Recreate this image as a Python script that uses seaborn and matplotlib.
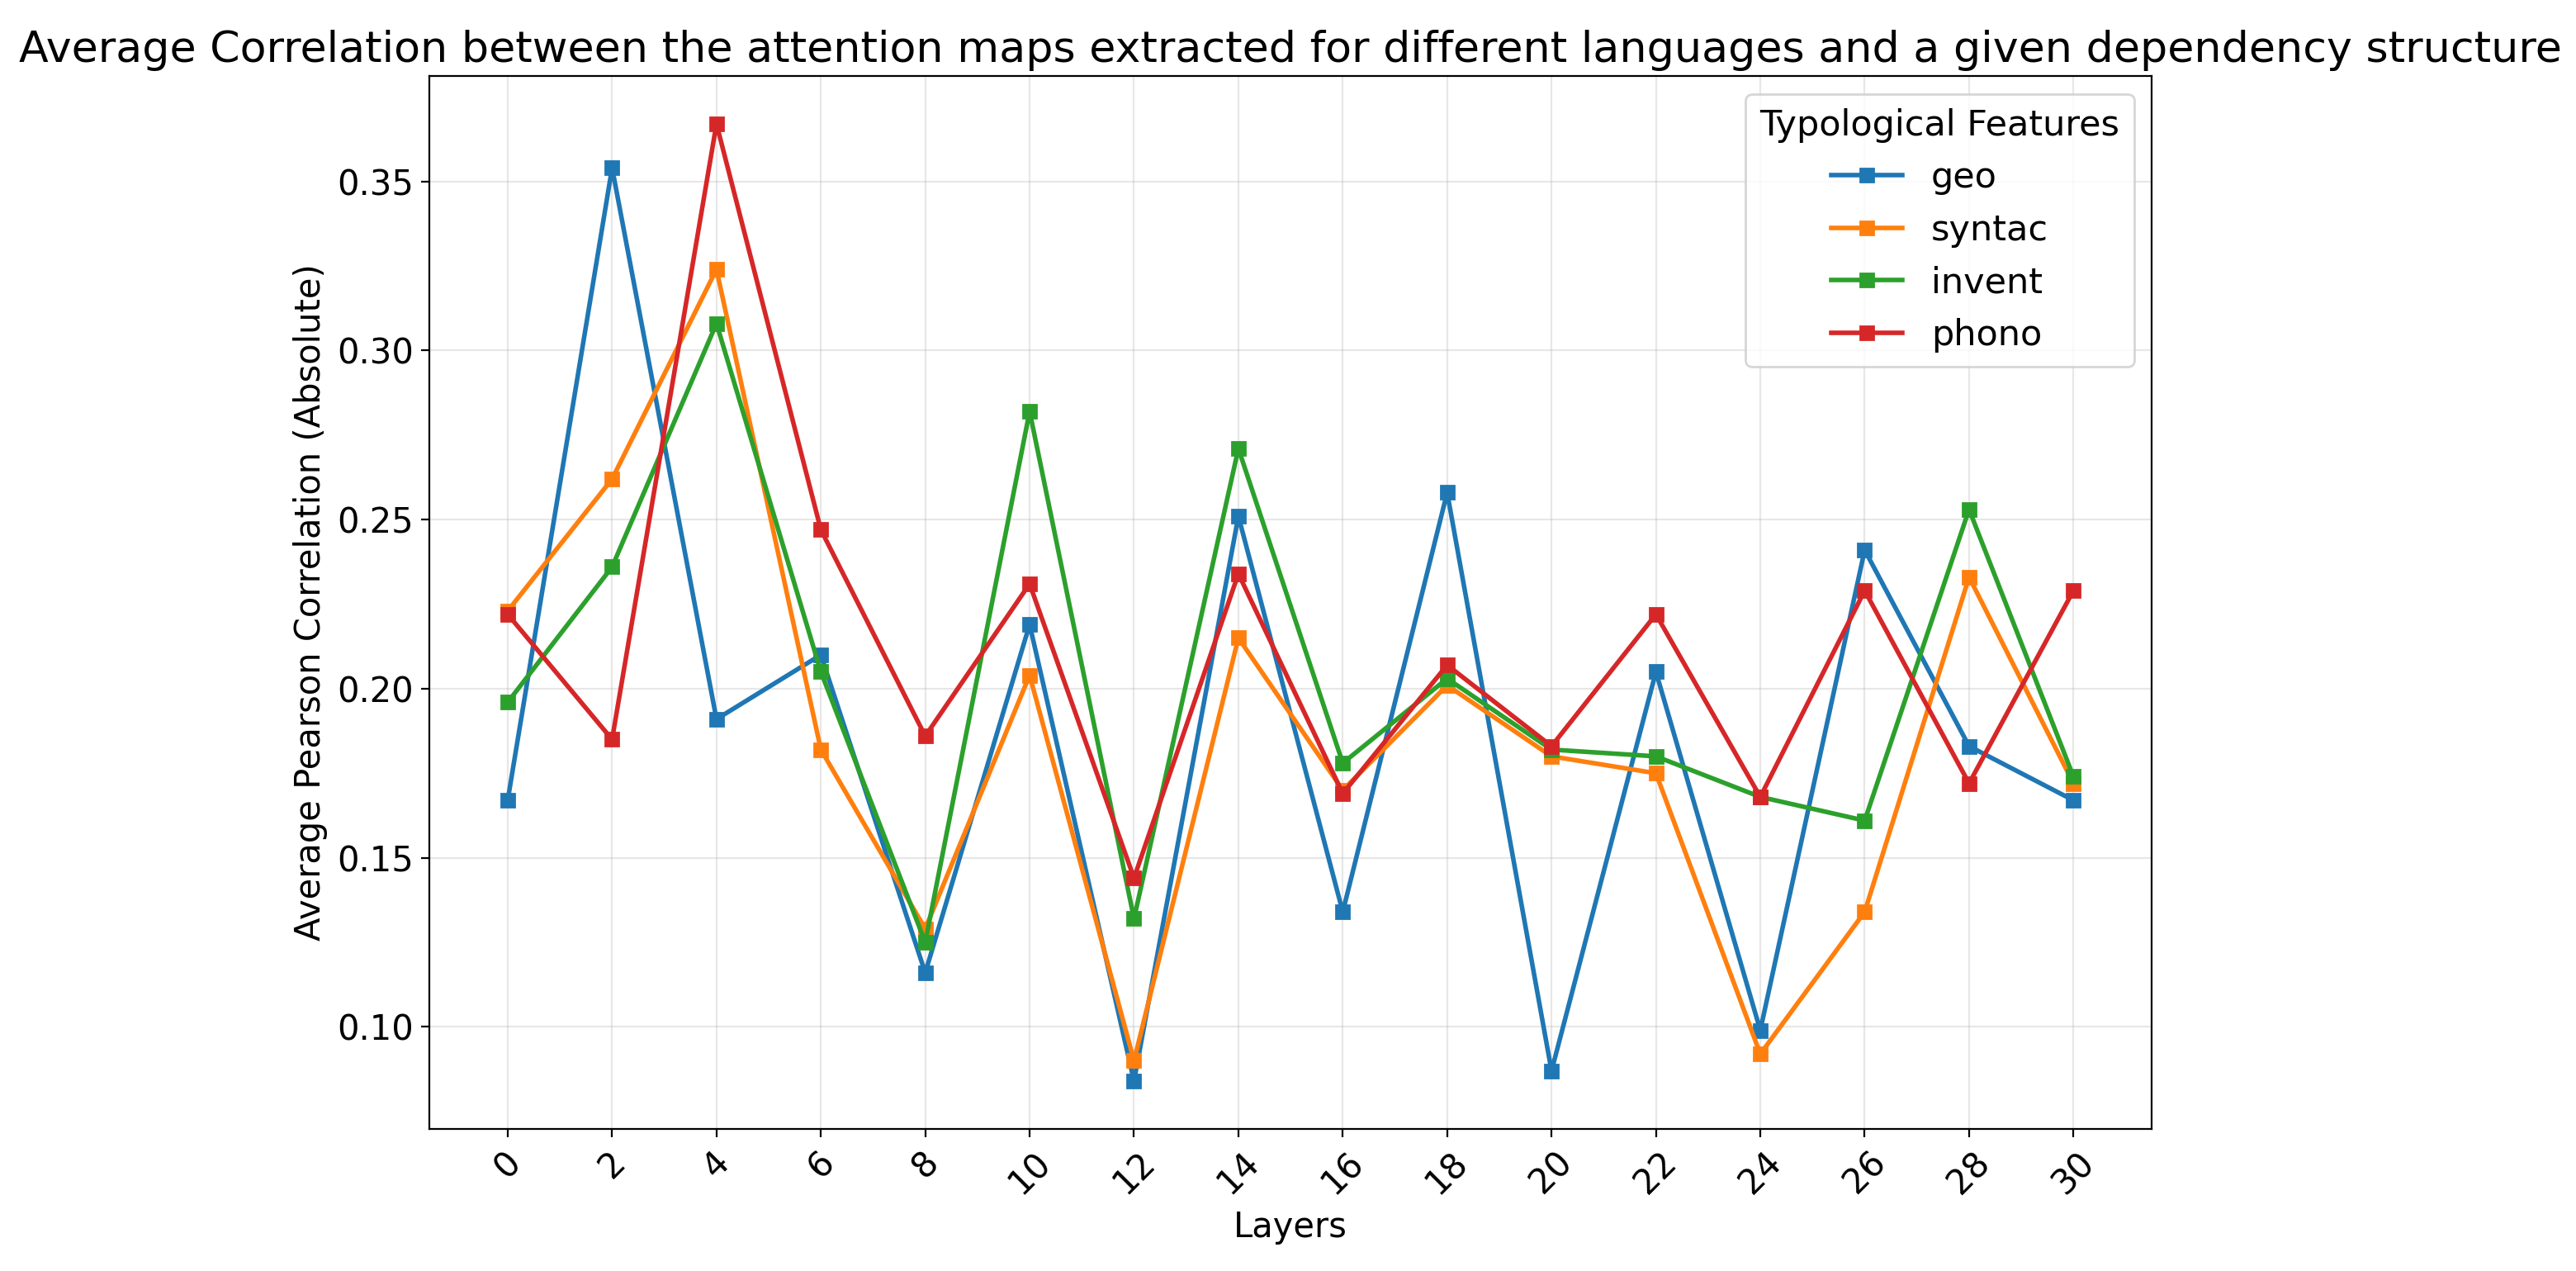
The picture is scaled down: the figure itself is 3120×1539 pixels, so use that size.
import pandas as pd
import numpy as np
import matplotlib
matplotlib.use("Agg")
import matplotlib.pyplot as plt
import seaborn as sns

# values
layers = [0, 2, 4, 6, 8, 10, 12, 14, 16, 18, 20, 22, 24, 26, 28, 30]
geo = [0.167, 0.354, 0.191, 0.210, 0.116, 0.219, 0.084, 0.251, 0.134, 0.258,
       0.087, 0.205, 0.099, 0.241, 0.183, 0.167]
syntac = [0.223, 0.262, 0.324, 0.182, 0.129, 0.204, 0.090, 0.215, 0.170, 0.201,
          0.180, 0.175, 0.092, 0.134, 0.233, 0.172]
invent = [0.196, 0.236, 0.308, 0.205, 0.125, 0.282, 0.132, 0.271, 0.178, 0.203,
          0.182, 0.180, 0.168, 0.161, 0.253, 0.174]
phono = [0.222, 0.185, 0.367, 0.247, 0.186, 0.231, 0.144, 0.234, 0.169, 0.207,
         0.183, 0.222, 0.168, 0.229, 0.172, 0.229]

features = ["geo", "syntac", "invent", "phono"]
series = [geo, syntac, invent, phono]
colors = ["#1f77b4", "#ff7f0e", "#2ca02c", "#d62728"]

df = pd.DataFrame({
    "layer": np.tile(layers, len(features)),
    "corr": np.concatenate(series),
    "feature": np.repeat(features, len(layers)),
})

fig = plt.figure(figsize=(15.6, 7.695), dpi=200)
ax = fig.add_axes([0.1667, 0.1118, 0.8353 - 0.1667, 0.9402 - 0.1118])

for name, col in zip(features, colors):
    sub = df[df["feature"] == name]
    sns.lineplot(data=sub, x="layer", y="corr", ax=ax, color=col, label=name,
                 marker="s", markersize=6, linewidth=2,
                 markeredgecolor=col, markeredgewidth=1)

ax.set_xticks(layers)
ax.set_xticklabels([str(l) for l in layers], rotation=45)
ax.tick_params(labelsize=15)
ax.grid(True, alpha=0.3)
ax.set_xlabel("Layers", fontsize=15)
ax.set_ylabel("Average Pearson Correlation (Absolute)", fontsize=15)
ax.set_title("Average Correlation between the attention maps extracted for different "
             "languages and a given dependency structure", fontsize=18.8)
ax.legend(title="Typological Features", fontsize=15.5, title_fontsize=15.5, loc="upper right")

fig.savefig("out.png", dpi=200)
